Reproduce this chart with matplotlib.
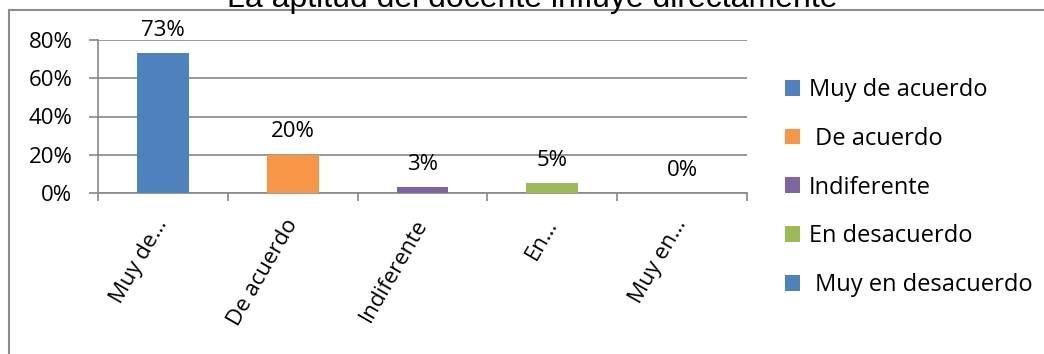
import matplotlib
matplotlib.use('Agg')
import matplotlib.pyplot as plt
from matplotlib.lines import Line2D
from matplotlib.patches import Patch
import numpy as np

# datos de la encuesta
categorias = ['Muy de…', 'De acuerdo', 'Indiferente', 'En…', 'Muy en…']
leyenda = ['Muy de acuerdo', ' De acuerdo', 'Indiferente', 'En desacuerdo', ' Muy en desacuerdo']
valores = [0.73, 0.20, 0.03, 0.05, 0.00]
etiquetas = ['73%', '20%', '3%', '5%', '0%']
colores = ['#4F81BD', '#F79646', '#8064A2', '#9BBB59', '#4F81BD']
titulo = 'La aptitud del docente influye directamente'

plt.rcParams['font.family'] = ['Open Sans', 'DejaVu Sans']
gris = '#888888'

fig = plt.figure(figsize=(10.44, 3.54), dpi=100)
ax = fig.add_axes([98/1044, 1-193/354, (747-98)/1044, (193-40)/354])

x = np.arange(len(valores))
ax.bar(x, valores, width=0.4, color=colores, zorder=3)
for xi, v, t in zip(x, valores, etiquetas):
    ax.annotate(t, (xi, v), xytext=(0, 9), textcoords='offset points',
                ha='center', va='bottom', fontsize=16)

ax.set_xlim(-0.5, len(valores)-0.5)
ax.set_ylim(0, 0.8)
ax.set_yticks([0, 0.2, 0.4, 0.6, 0.8])
ax.set_yticklabels(['0%', '20%', '40%', '60%', '80%'], fontsize=16)
ax.yaxis.grid(True, color=gris, lw=1.2, zorder=0)
ax.tick_params(axis='y', length=6.5, color=gris, width=1.2, pad=12)

ax.set_xticks(x)
ax.set_xticklabels(categorias, fontsize=16, rotation=60,
                   ha='right', va='center', rotation_mode='anchor')
ax.set_xticks(np.arange(-0.5, len(valores)), minor=True)
ax.tick_params(axis='x', which='major', length=0, pad=20)
ax.tick_params(axis='x', which='minor', length=6, color=gris, width=1.2)

for s in ['top', 'right']:
    ax.spines[s].set_visible(False)
for s in ['left', 'bottom']:
    ax.spines[s].set_color(gris)
    ax.spines[s].set_linewidth(1.2)

handles = [Patch(facecolor=c) for c in colores]
fig.legend(handles, leyenda, loc='upper left', bbox_to_anchor=(785/1044, 1-78/354),
           frameon=False, fontsize=17, handlelength=0.65, handleheight=0.65,
           handletextpad=0.35, labelspacing=1.05, borderpad=0, borderaxespad=0)

# marco exterior del grafico
fig.add_artist(Line2D([9/1044, 1], [1-10/354, 1-10/354], color='#8c8c8c', lw=1.5))
fig.add_artist(Line2D([9/1044, 9/1044], [0, 1-10/354], color='#8c8c8c', lw=1.5))

fig.text(532/1044, 1-7/354, titulo, ha='center', va='baseline',
         fontsize=23, family='Liberation Sans')

fig.savefig('out.png', dpi=100)
